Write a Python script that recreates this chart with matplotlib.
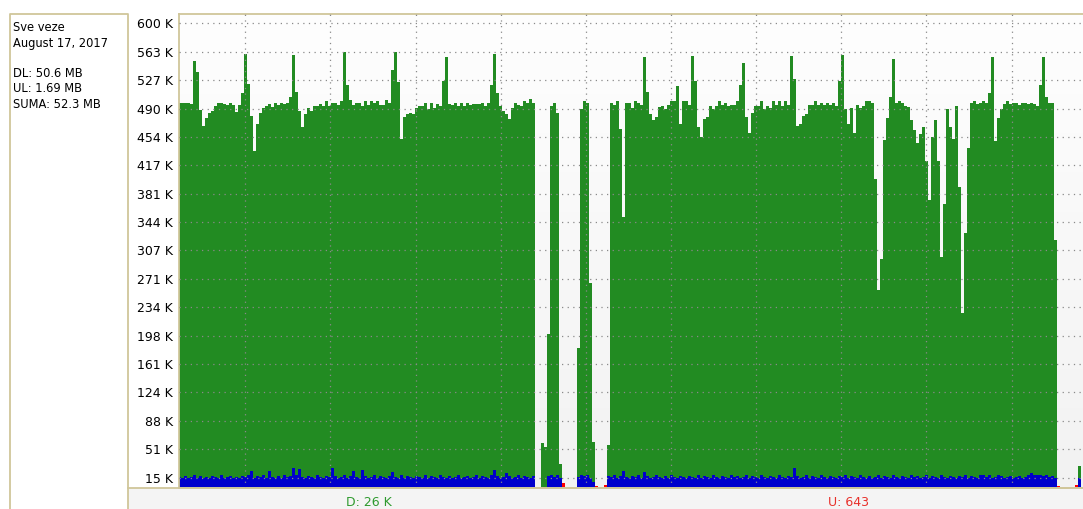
import numpy as np
import matplotlib
matplotlib.use("Agg")
import matplotlib.pyplot as plt
from matplotlib.patches import Rectangle
from matplotlib.lines import Line2D
from matplotlib.colors import LinearSegmentedColormap

# ---------------- data (K per sample) ----------------
download_k = [
    497, 497, 497, 498, 496, 552, 537, 488, 468, 478,
    484, 487, 493, 498, 497, 496, 495, 498, 495, 486,
    495, 510, 561, 522, 481, 436, 470, 484, 491, 493,
    496, 492, 497, 495, 498, 496, 497, 505, 559, 512,
    487, 466, 483, 491, 487, 494, 494, 496, 494, 500,
    494, 497, 498, 495, 500, 563, 520, 501, 495, 497,
    497, 494, 500, 495, 500, 497, 500, 495, 495, 501,
    497, 540, 563, 524, 451, 479, 483, 485, 483, 491,
    494, 494, 497, 490, 497, 491, 496, 494, 526, 556,
    496, 495, 498, 494, 497, 494, 498, 495, 496, 496,
    496, 497, 494, 497, 520, 561, 510, 494, 487, 483,
    477, 491, 498, 495, 494, 500, 497, 502, 497, 0,
    0, 60, 55, 200, 494, 497, 485, 32, 0, 0,
    0, 0, 0, 182, 490, 500, 497, 266, 61, 0,
    0, 0, 0, 57, 497, 495, 500, 464, 351, 497,
    498, 491, 500, 497, 495, 556, 512, 483, 476, 480,
    492, 494, 490, 495, 500, 500, 519, 470, 500, 500,
    495, 558, 526, 466, 453, 477, 479, 494, 490, 493,
    500, 495, 497, 494, 495, 495, 500, 520, 549, 480,
    459, 485, 494, 494, 500, 490, 494, 491, 500, 495,
    500, 494, 500, 495, 558, 528, 468, 470, 481, 483,
    495, 495, 500, 495, 497, 495, 497, 495, 497, 494,
    526, 559, 490, 470, 491, 459, 495, 491, 494, 500,
    500, 497, 400, 256, 297, 450, 478, 505, 554, 498,
    500, 498, 494, 492, 475, 463, 446, 458, 466, 423,
    372, 453, 475, 423, 299, 368, 490, 466, 451, 494,
    389, 227, 330, 440, 498, 500, 496, 498, 500, 497,
    510, 557, 449, 478, 490, 496, 500, 496, 498, 497,
    495, 497, 497, 496, 497, 496, 494, 520, 557, 505,
    497, 498, 321, 0, 0, 0, 0, 0, 0, 0,
    30, 0,
]

blue_k = [
    16, 15, 17, 14, 16, 18, 15, 17, 14, 16,
    15, 17, 16, 14, 18, 15, 16, 17, 14, 16,
    15, 17, 16, 18, 23, 15, 17, 16, 18, 15,
    24, 16, 15, 17, 14, 18, 16, 17, 28, 18,
    26, 16, 15, 17, 16, 14, 18, 16, 15, 17,
    16, 28, 17, 15, 16, 18, 14, 17, 24, 16,
    15, 25, 17, 14, 16, 18, 15, 17, 16, 15,
    17, 22, 16, 14, 18, 15, 17, 16, 14, 17,
    16, 15, 18, 14, 17, 16, 15, 18, 16, 14,
    17, 15, 16, 18, 14, 16, 17, 15, 16, 18,
    15, 17, 16, 14, 18, 25, 17, 15, 16, 21,
    17, 14, 16, 18, 15, 17, 16, 14, 17, 0,
    0, 0, 0, 17, 19, 16, 18, 14, 0, 0,
    0, 0, 0, 16, 19, 17, 19, 15, 9, 0,
    0, 0, 0, 17, 16, 18, 15, 17, 24, 16,
    15, 17, 16, 18, 14, 22, 17, 15, 16, 18,
    16, 15, 17, 14, 18, 16, 15, 17, 16, 14,
    17, 16, 15, 18, 14, 17, 16, 15, 18, 16,
    15, 17, 16, 14, 18, 16, 17, 15, 16, 18,
    14, 17, 16, 15, 18, 16, 14, 17, 16, 15,
    18, 16, 15, 17, 16, 27, 17, 15, 16, 18,
    14, 17, 16, 15, 18, 16, 14, 17, 16, 15,
    17, 16, 18, 14, 17, 16, 15, 18, 16, 14,
    17, 15, 16, 18, 14, 17, 16, 15, 18, 16,
    15, 17, 16, 14, 18, 16, 17, 15, 16, 18,
    14, 17, 16, 15, 18, 16, 14, 17, 16, 15,
    17, 16, 18, 14, 17, 16, 15, 18, 19, 16,
    18, 15, 16, 19, 17, 15, 16, 17, 15, 16,
    17, 15, 16, 18, 21, 18, 19, 18, 17, 18,
    16, 17, 15, 0, 0, 0, 0, 0, 0, 0,
    15, 0,
]

upload_red_k = ([0] * 128 + [8] + [0] * 10 + [4] + [0] * 2 + [6]
                + [0] * 150 + [4] + [0] * 5 + [6] + [0, 0])

ytick_labels = ["15 K", "51 K", "88 K", "124 K", "161 K", "198 K", "234 K",
                "271 K", "307 K", "344 K", "381 K", "417 K", "454 K", "490 K",
                "527 K", "563 K", "600 K"]

panel_lines = ["Sve veze", "August 17, 2017", "DL: 50.6 MB", "UL: 1.69 MB",
               "SUMA: 52.3 MB"]
footer_dl = "D: 26 K"
footer_ul = "U: 643"

# ---------------- layout ----------------
W, H = 1083, 509
fig = plt.figure(figsize=(W / 100, H / 100), dpi=100)
fig.patch.set_facecolor("white")


def fx(x):
    return x / W


def fy(y):
    return 1 - y / H


BEIGE = "#d0c69a"
GREEN = "#228b22"
BLUE = "#0000cc"
RED = "#ff0000"

# bottom strip
fig.add_artist(Rectangle((fx(128), 0), fx(1083) - fx(128), fy(488),
                         transform=fig.transFigure, facecolor="#f4f4f4",
                         edgecolor="none", zorder=0))
fig.add_artist(Line2D([fx(128), 1], [fy(488), fy(488)], transform=fig.transFigure,
                      color=BEIGE, lw=1.3, zorder=5))
# left info panel border
fig.add_artist(Line2D([fx(10), fx(10), fx(128), fx(128)], [0, fy(14), fy(14), 0],
                      transform=fig.transFigure, color=BEIGE, lw=1.3, zorder=5))

# plot axes
ax = fig.add_axes([fx(178.5), fy(488), (1083 - 178.5) / W, (488 - 14) / H])
ax.patch.set_visible(False)

grad = np.linspace(0, 1, 256).reshape(-1, 1)
cmap = LinearSegmentedColormap.from_list("bg", ["#fefefe", "#f2f2f2"])
ax.imshow(grad, extent=[0, 1, 0, 1], transform=ax.transAxes, aspect="auto",
          cmap=cmap, zorder=0)

n = len(download_k)
edges = np.arange(n + 1)
ax.stairs(download_k, edges, baseline=0, fill=True, color=GREEN, lw=0, zorder=1)
ax.stairs(upload_red_k, edges, baseline=0, fill=True, color=RED, lw=0, zorder=1.1)
ax.stairs(blue_k, edges, baseline=0, fill=True, color=BLUE, lw=0, zorder=1.2)

ax.set_xlim(0.17, 301.67)
ax.set_ylim(1.7, 612)

ax.set_yticks(np.linspace(15, 600, 17))
ax.set_yticklabels(ytick_labels)
ax.set_xticks(22.43 + 28.38 * np.arange(10))
ax.tick_params(axis="x", length=0, labelbottom=False)
ax.tick_params(axis="y", length=0, pad=4.2, labelsize=9, labelcolor="black")
ax.set_axisbelow(False)
ax.grid(True, color="#8a8a8a", lw=0.9, linestyle=(0, (1, 3.5)))

ax.spines["right"].set_visible(False)
for side in ["top", "left", "bottom"]:
    ax.spines[side].set_color(BEIGE)
    ax.spines[side].set_linewidth(1.3)

# panel text
baselines = [30.7, 46.7, 76.7, 92.5, 108.0]
for txt, yb in zip(panel_lines, baselines):
    fig.text(fx(13), fy(yb), txt, fontsize=8.3, va="baseline", ha="left",
             color="black")

# footer text
fig.text(fx(369), fy(502), footer_dl, fontsize=9, ha="center", va="center",
         color="#2e9a2e")
fig.text(fx(849), fy(502), footer_ul, fontsize=9, ha="center", va="center",
         color="#e8302a")

fig.savefig("out.png", dpi=100, facecolor="white")
